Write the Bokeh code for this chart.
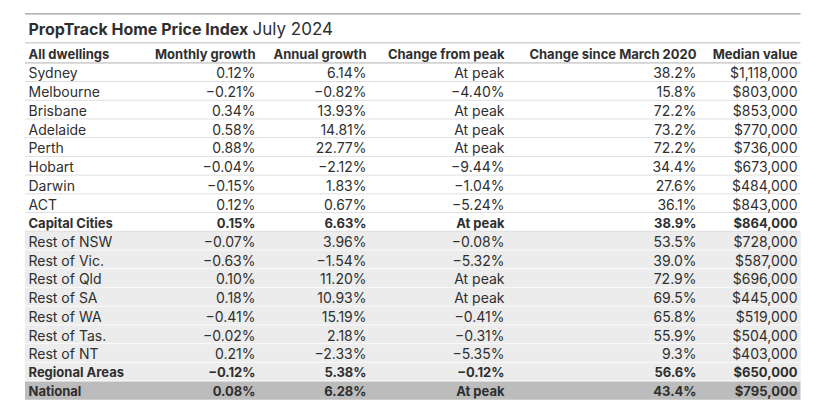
from bokeh.plotting import figure
from bokeh.models import Range1d, ColumnDataSource
from bokeh.core.properties import value
from bokeh.embed import file_html
from bokeh.resources import INLINE

# ---- data ----
regions = ["Sydney", "Melbourne", "Brisbane", "Adelaide", "Perth", "Hobart", "Darwin", "ACT",
           "Capital Cities", "Rest of NSW", "Rest of Vic.", "Rest of Qld", "Rest of SA",
           "Rest of WA", "Rest of Tas.", "Rest of NT", "Regional Areas", "National"]
monthly = [0.12, -0.21, 0.34, 0.58, 0.88, -0.04, -0.15, 0.12, 0.15, -0.07, -0.63, 0.10,
           0.18, -0.41, -0.02, 0.21, -0.12, 0.08]
annual = [6.14, -0.82, 13.93, 14.81, 22.77, -2.12, 1.83, 0.67, 6.63, 3.96, -1.54, 11.20,
          10.93, 15.19, 2.18, -2.33, 5.38, 6.28]
from_peak = [0.0, -4.40, 0.0, 0.0, 0.0, -9.44, -1.04, -5.24, 0.0, -0.08, -5.32, 0.0, 0.0,
             -0.41, -0.31, -5.35, -0.12, 0.0]
since_mar2020 = [38.2, 15.8, 72.2, 73.2, 72.2, 34.4, 27.6, 36.1, 38.9, 53.5, 39.0, 72.9,
                 69.5, 65.8, 55.9, 9.3, 56.6, 43.4]
median = [1118000, 803000, 853000, 770000, 736000, 673000, 484000, 843000, 864000, 728000,
          587000, 696000, 445000, 519000, 504000, 403000, 650000, 795000]
headers = ["All dwellings", "Monthly growth", "Annual growth", "Change from peak",
           "Change since March 2020", "Median value"]
title_bold = "PropTrack Home Price Index"
title_rest = "July 2024"
summary_rows = ["Capital Cities", "Regional Areas", "National"]
regional_rows = ["Rest of NSW", "Rest of Vic.", "Rest of Qld", "Rest of SA", "Rest of WA",
                 "Rest of Tas.", "Rest of NT", "Regional Areas"]

# ---- layout ----
FONT = value("Inter")
TXT = "#2f2f2f"
LEFT, RIGHT = 24.5, 800
TOP = 62.3
PITCH = 18.72
col_x = [28, 255, 366, 504, 696, 797]


def fmt_pct(v, d=2):
    s = f"{abs(v):.{d}f}%"
    return ("\u2212" + s) if v < 0 else s


def fmt_peak(v):
    return "At peak" if v == 0 else fmt_pct(v)


def fmt_money(v):
    return f"${v:,.0f}"


p = figure(width=816, height=400, output_backend="svg", toolbar_location=None,
           x_range=Range1d(0, 816), y_range=Range1d(400, 0), min_border=0)
p.axis.visible = False
p.grid.visible = False
p.outline_line_color = None
p.background_fill_color = "white"
p.border_fill_color = "white"

n = len(regions)
tops = [TOP + i * PITCH for i in range(n)]
bots = [TOP + (i + 1) * PITCH for i in range(n)]
mids = [TOP + (i + 0.5) * PITCH + 0.8 for i in range(n)]

# backgrounds
bg = []
for r in regions:
    if r == "National":
        bg.append("#bcbcbc")
    elif r in regional_rows:
        bg.append("#ececec")
    else:
        bg.append("#ffffff")
p.quad(left=LEFT, right=RIGHT, top=tops, bottom=bots, fill_color=bg, line_color=None)

# row separators
sep_col = []
for i, r in enumerate(regions[:-1]):
    if r in regional_rows:
        sep_col.append("#fafafa")
    else:
        sep_col.append("#dedede")
p.segment(x0=LEFT, x1=RIGHT, y0=bots[:-1], y1=bots[:-1], line_color=sep_col, line_width=1)

# top rules
p.segment(x0=[LEFT], x1=[RIGHT], y0=[13.3], y1=[13.3], line_color="#9e9e9e", line_width=1.3)
p.segment(x0=[LEFT], x1=[RIGHT], y0=[42.3], y1=[42.3], line_color="#d2d2d2", line_width=1.5)
p.segment(x0=[LEFT], x1=[RIGHT], y0=[TOP], y1=[TOP], line_color="#d2d2d2", line_width=1.8)

# title
p.text(x=[28], y=[28.5], text=[title_bold], text_font=FONT, text_font_size="16px",
       text_font_style="bold", text_color=TXT, text_baseline="middle", text_align="left")
p.text(x=[252], y=[28.5], text=[title_rest], text_font=FONT, text_font_size="17px",
       text_font_style="normal", text_color=TXT, text_baseline="middle", text_align="left")

# header
p.text(x=col_x, y=[53] * len(headers), text=headers, text_font=FONT, text_font_size="13px",
       text_font_style="bold", text_color=TXT, text_baseline="middle",
       text_align=["left"] + ["right"] * 5)

# body
cols = [
    regions,
    [fmt_pct(v) for v in monthly],
    [fmt_pct(v) for v in annual],
    [fmt_peak(v) for v in from_peak],
    [fmt_pct(v, 1) for v in since_mar2020],
    [fmt_money(v) for v in median],
]
for ci, colvals in enumerate(cols):
    for bold in (False, True):
        idx = [i for i, r in enumerate(regions) if (r in summary_rows) == bold]
        src = ColumnDataSource(dict(x=[col_x[ci]] * len(idx), y=[mids[i] for i in idx],
                                    t=[colvals[i] for i in idx]))
        p.text(x="x", y="y", text="t", source=src, text_font=FONT,
               text_font_size="13px" if bold else "14px",
               text_font_style="bold" if bold else "normal", text_color=TXT,
               text_baseline="middle", text_align="left" if ci == 0 else "right")

open("out.html", "w").write(file_html(p, INLINE))
